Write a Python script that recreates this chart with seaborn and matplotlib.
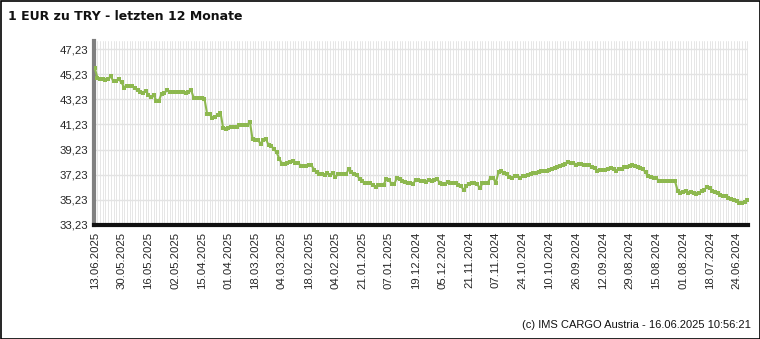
import matplotlib
matplotlib.use("Agg")
import matplotlib.pyplot as plt
from matplotlib.patches import Rectangle
import seaborn as sns
import pandas as pd
import numpy as np

title = "1 EUR zu TRY - letzten 12 Monate"
footer = "(c) IMS CARGO Austria - 16.06.2025 10:56:21"

# Exchange rate, newest (13.06.2025) first, one value per trading day
rates = [
    45.69, 44.95, 44.85, 44.85, 44.80, 44.85, 45.05, 44.65, 44.65, 44.83,
    44.57, 44.17, 44.29, 44.30, 44.28, 44.10, 43.95, 43.85, 43.77, 43.90,
    43.60, 43.41, 43.55, 43.13, 43.13, 43.69, 43.70, 43.97, 43.83, 43.85,
    43.85, 43.83, 43.80, 43.78, 43.75, 43.78, 43.97, 43.35, 43.30, 43.32,
    43.35, 43.28, 42.09, 42.05, 41.71, 41.85, 41.95, 42.17, 40.97, 40.90,
    40.95, 41.05, 41.00, 41.00, 41.17, 41.17, 41.17, 41.17, 41.45, 40.05,
    40.00, 40.00, 39.69, 40.00, 40.05, 39.60, 39.50, 39.30, 39.00, 38.50,
    38.10, 38.09, 38.20, 38.25, 38.30, 38.20, 38.20, 37.95, 37.95, 37.95,
    37.97, 38.03, 37.60, 37.45, 37.30, 37.25, 37.20, 37.37, 37.20, 37.39,
    37.05, 37.27, 37.25, 37.27, 37.27, 37.69, 37.45, 37.30, 37.20, 36.91,
    36.75, 36.57, 36.60, 36.61, 36.40, 36.25, 36.45, 36.43, 36.45, 36.87,
    36.85, 36.49, 36.49, 36.97, 36.90, 36.70, 36.69, 36.60, 36.55, 36.49,
    36.81, 36.78, 36.70, 36.70, 36.65, 36.78, 36.75, 36.85, 36.91, 36.60,
    36.49, 36.50, 36.65, 36.60, 36.57, 36.57, 36.45, 36.30, 36.03, 36.30,
    36.50, 36.57, 36.55, 36.49, 36.17, 36.55, 36.57, 36.60, 37.00, 36.95,
    36.61, 37.45, 37.55, 37.40, 37.25, 37.05, 36.97, 37.09, 37.09, 36.97,
    37.10, 37.15, 37.19, 37.25, 37.35, 37.35, 37.45, 37.49, 37.50, 37.55,
    37.60, 37.65, 37.80, 37.83, 37.90, 37.97, 38.05, 38.25, 38.20, 38.20,
    38.03, 38.10, 38.11, 38.00, 38.00, 37.99, 37.85, 37.73, 37.49, 37.60,
    37.63, 37.63, 37.70, 37.73, 37.65, 37.55, 37.65, 37.71, 37.87, 37.85,
    37.95, 38.03, 37.90, 37.83, 37.75, 37.69, 37.41, 37.09, 37.04, 37.00,
    36.97, 36.75, 36.70, 36.70, 36.70, 36.70, 36.70, 36.70, 35.97, 35.77,
    35.85, 35.90, 35.80, 35.87, 35.80, 35.70, 35.77, 35.90, 36.05, 36.25,
    36.15, 35.97, 35.85, 35.77, 35.60, 35.55, 35.55, 35.35, 35.29, 35.25,
    35.17, 34.97, 34.95, 35.05, 35.23,
]

tick_labels = [
    "13.06.2025", "30.05.2025", "16.05.2025", "02.05.2025", "15.04.2025",
    "01.04.2025", "18.03.2025", "04.03.2025", "18.02.2025", "04.02.2025",
    "21.01.2025", "07.01.2025", "19.12.2024", "05.12.2024", "21.11.2024",
    "07.11.2024", "24.10.2024", "10.10.2024", "26.09.2024", "12.09.2024",
    "29.08.2024", "15.08.2024", "01.08.2024", "18.07.2024", "24.06.2024",
]
y_ticks = [33.23, 35.23, 37.23, 39.23, 41.23, 43.23, 45.23, 47.23]

df = pd.DataFrame({"idx": np.arange(len(rates)), "rate": rates})

sns.set_style("white")
plt.rcParams["font.family"] = ["Liberation Sans", "DejaVu Sans"]

fig = plt.figure(figsize=(7.6, 3.39), dpi=100)
ax = fig.add_axes([94 / 760, 1 - 225 / 339, (748 - 94) / 760, (225 - 41) / 339])

sns.lineplot(data=df, x="idx", y="rate", ax=ax, color="#8db84f", linewidth=1.5,
             marker="s", markersize=2.2, markeredgewidth=0, zorder=3)

n = len(rates)
ax.set_xlim(-0.3, n - 1 + 0.3)
ax.set_ylim(33.23, 47.87)

# dense vertical grid, one line per data point
ax.set_xticks(np.arange(n), minor=True)
ax.grid(which="minor", axis="x", color="#e6e6e6", linewidth=0.7)
ax.set_xticks(np.arange(0, 10 * len(tick_labels), 10))
ax.set_xticklabels(tick_labels, rotation=90, fontsize=8.2)
ax.set_yticks(y_ticks)
ax.set_yticklabels([f"{v:.2f}".replace(".", ",") for v in y_ticks], fontsize=8.2)
ax.grid(which="major", axis="y", color="#e3e3e3", linewidth=1)
ax.grid(which="major", axis="x", color="#e6e6e6", linewidth=0.7)
ax.tick_params(axis="both", which="both", length=0, pad=4)
ax.tick_params(axis="x", pad=5)
ax.set_xlabel("")
ax.set_ylabel("")

for s in ["top", "right"]:
    ax.spines[s].set_visible(False)
ax.spines["left"].set_color("#808080")
ax.spines["left"].set_linewidth(3)
ax.spines["bottom"].set_color("#111111")
ax.spines["bottom"].set_linewidth(3)

fig.text(8 / 760, 1 - 17 / 339, title, fontsize=9, fontweight="bold",
         family=["DejaVu Sans"], va="center", ha="left", color="#111111")
fig.text(751 / 760, 1 - 325 / 339, footer, fontsize=8, va="center", ha="right",
         color="#111111")

fig.patches.append(Rectangle((0.5 / 760, 0.5 / 339), 759 / 760, 338 / 339,
                             transform=fig.transFigure, fill=False,
                             edgecolor="black", linewidth=1.2))

fig.savefig("out.png", dpi=100)
